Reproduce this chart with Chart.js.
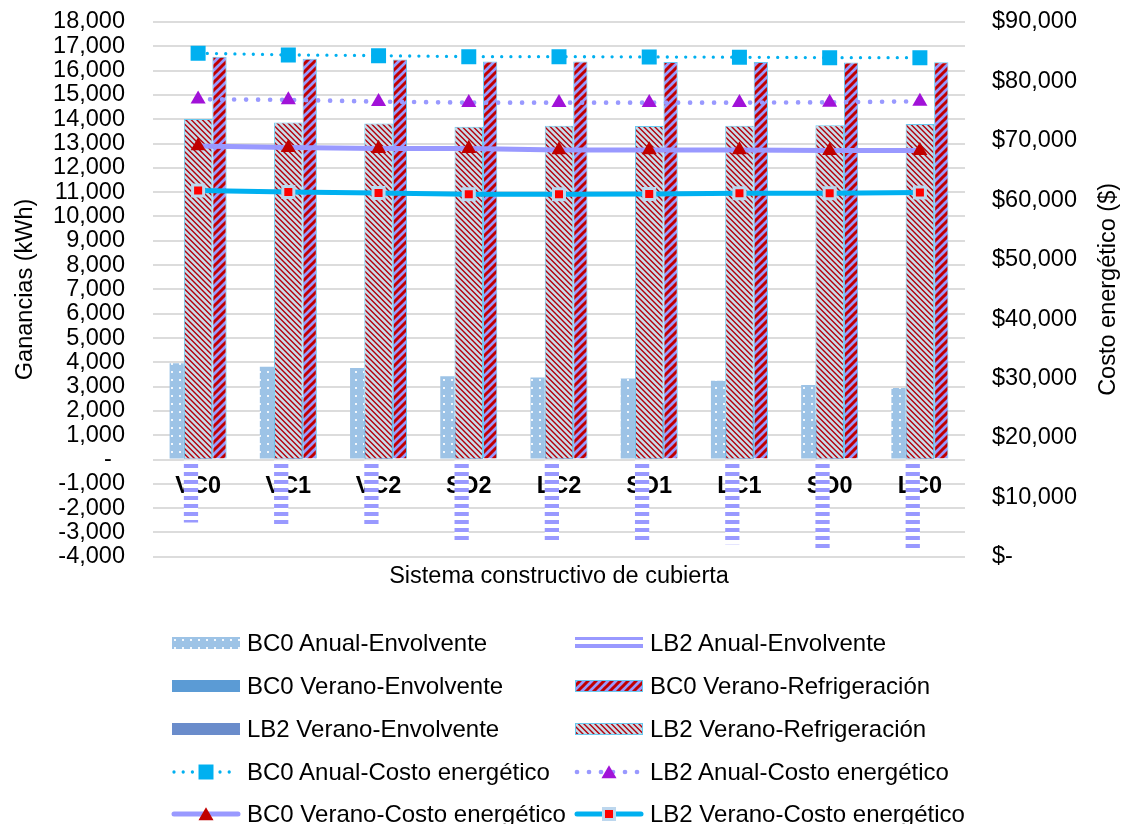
<!DOCTYPE html>
<html lang="es">
<head>
<meta charset="utf-8">
<title>Ganancias y costo energético por sistema constructivo de cubierta</title>
<script src="https://cdn.jsdelivr.net/npm/chart.js@4.4.1/dist/chart.umd.min.js"></script>
<style>
  html, body { margin: 0; padding: 0; background: #fff; }
  body { width: 1122px; height: 824px; position: relative; overflow: hidden;
         font-family: 'Liberation Sans', Arial, sans-serif; }
  #grafico { position: absolute; left: 0; top: 0; }
  #leyenda { position: absolute; left: 0; top: 0; width: 1122px; height: 824px; }
  .item { position: absolute; display: flex; align-items: center; height: 40px;
          font-size: 24px; color: #000; white-space: nowrap; }
  .item canvas { width: 70px; height: 30px; margin-right: 6px; flex: none; }
</style>
</head>
<body>
<canvas id="grafico" width="1122" height="600"></canvas>
<div id="leyenda"></div>
<script>
// Sistemas constructivos de cubierta (eje X)
const categorias = ['VC0', 'VC1', 'VC2', 'SD2', 'LC2', 'SD1', 'LC1', 'SD0', 'LC0'];

// Ganancias en kWh (eje izquierdo)
const bc0AnualEnvolvente       = [3960, 3820, 3770, 3430, 3380, 3330, 3240, 3070, 2940];
const lb2AnualEnvolvente       = [-2590, -2800, -2800, -3370, -3400, -3440, -3480, -3740, -3740];
const bc0VeranoEnvolvente      = [2650, 2570, 2540, 2380, 2360, 2330, 2280, 2190, 2120];
const bc0VeranoRefrigeracion   = [16570, 16490, 16460, 16370, 16370, 16350, 16350, 16330, 16340];
const lb2VeranoEnvolvente      = [1890, 1830, 1810, 1700, 1680, 1660, 1630, 1570, 1510];
const lb2VeranoRefrigeracion   = [14010, 13870, 13820, 13690, 13730, 13720, 13730, 13750, 13800];

// Costo energético en $ (eje derecho)
const bc0AnualCosto   = [84740, 84460, 84340, 84170, 84170, 84120, 84070, 84000, 84000];
const lb2AnualCosto   = [77000, 76890, 76600, 76430, 76430, 76430, 76430, 76480, 76650];
const bc0VeranoCosto  = [69150, 68860, 68700, 68700, 68470, 68470, 68470, 68360, 68360];
const lb2VeranoCosto  = [61630, 61400, 61240, 61020, 61020, 61070, 61190, 61190, 61290];

// Marcas de los ejes
const ticksGanancias = { min: -4000, max: 18000, paso: 1000 };
const ticksCosto     = { min: 0, max: 90000, paso: 10000 };

const FUENTE = "'Liberation Sans', Arial, sans-serif";
Chart.defaults.font.family = FUENTE;
Chart.defaults.color = '#000';

// ---- Tramas de relleno ----
function trama(tam, dibujar) {
  const c = document.createElement('canvas');
  c.width = c.height = tam;
  const g = c.getContext('2d');
  dibujar(g, tam);
  return g.createPattern(c, 'repeat');
}
const tramaPuntos = trama(8, (g, t) => {
  g.fillStyle = '#9DC3E6'; g.fillRect(0, 0, t, t);
  g.fillStyle = '#f2f7fc'; g.fillRect(3, 3, 2, 2);
});
const tramaLineasH = trama(8, (g, t) => {
  g.fillStyle = '#ffffff'; g.fillRect(0, 0, t, t);
  g.fillStyle = '#9999FF'; g.fillRect(0, 0, t, 4);
});
const tramaRayas = trama(8, (g, t) => {
  g.fillStyle = '#9999FF'; g.fillRect(0, 0, t, t);
  g.strokeStyle = '#C00000'; g.lineWidth = 3;
  g.beginPath();
  g.moveTo(-2, t + 2); g.lineTo(t + 2, -2);
  g.moveTo(-2, 2); g.lineTo(2, -2);
  g.moveTo(t - 2, t + 2); g.lineTo(t + 2, t - 2);
  g.stroke();
});
const tramaDiagonal = trama(11, (g, t) => {
  g.fillStyle = '#C9DDEA'; g.fillRect(0, 0, t, t);
  g.strokeStyle = '#B3000C'; g.lineWidth = 1.4;
  g.beginPath();
  for (const k of [-11, -5.5, 0, 5.5, 11]) { g.moveTo(-1, k - 1); g.lineTo(t + 1, t + k + 1); }
  g.stroke();
});

const BORDE_BARRA = '#69c8ee';
// Barras agrupadas: cuatro posiciones por categoría
const GRUPO = { categoryPercentage: 0.632, barPercentage: 1, grouped: true };
// Barras centradas en la categoría, con el ancho de dos posiciones
const CENTRADA = { grouped: false, categoryPercentage: 1, barPercentage: 0.316 };

const datasets = [
  { type: 'bar', label: 'BC0 Anual-Envolvente', data: bc0AnualEnvolvente, ...GRUPO,
    backgroundColor: tramaPuntos, borderWidth: 0, order: 2 },
  { type: 'bar', label: 'LB2 Anual-Envolvente', data: lb2AnualEnvolvente, ...GRUPO,
    backgroundColor: tramaLineasH, borderWidth: 0, order: 2 },
  { type: 'bar', label: 'BC0 Verano-Envolvente', data: bc0VeranoEnvolvente, ...GRUPO,
    backgroundColor: '#5B9BD5', borderWidth: 0, order: 2 },
  { type: 'bar', label: 'BC0 Verano-Refrigeración', data: bc0VeranoRefrigeracion, ...GRUPO,
    backgroundColor: tramaRayas, borderColor: BORDE_BARRA, borderWidth: 1, order: 2 },
  { type: 'bar', label: 'LB2 Verano-Envolvente', data: lb2VeranoEnvolvente, ...CENTRADA,
    backgroundColor: '#6A8CCB', borderWidth: 0, order: 2 },
  { type: 'bar', label: 'LB2 Verano-Refrigeración', data: lb2VeranoRefrigeracion, ...CENTRADA,
    backgroundColor: tramaDiagonal, borderColor: BORDE_BARRA, borderWidth: 1, order: 1 },
  { type: 'line', label: 'BC0 Anual-Costo energético', data: bc0AnualCosto, yAxisID: 'y1',
    borderColor: '#00B0F0', borderWidth: 3.3, borderDash: [0, 9.2], borderCapStyle: 'round',
    pointStyle: 'rect', pointRadius: 10.6, pointBackgroundColor: '#00B0F0',
    pointBorderColor: '#00B0F0', pointBorderWidth: 0, order: 0 },
  { type: 'line', label: 'LB2 Anual-Costo energético', data: lb2AnualCosto, yAxisID: 'y1',
    borderColor: '#9999FF', borderWidth: 4.7, borderDash: [0, 12], borderCapStyle: 'round',
    pointStyle: 'triangle', pointRadius: 8.7, pointBackgroundColor: '#A112D8',
    pointBorderColor: '#A112D8', pointBorderWidth: 0, order: 0 },
  { type: 'line', label: 'BC0 Verano-Costo energético', data: bc0VeranoCosto, yAxisID: 'y1',
    borderColor: '#9999FF', borderWidth: 5, borderCapStyle: 'round',
    pointStyle: 'triangle', pointRadius: 8.7, pointBackgroundColor: '#C00000',
    pointBorderColor: '#C00000', pointBorderWidth: 0, order: 0 },
  { type: 'line', label: 'LB2 Verano-Costo energético', data: lb2VeranoCosto, yAxisID: 'y1',
    borderColor: '#00B0F0', borderWidth: 5, borderCapStyle: 'round',
    pointStyle: 'rect', pointRadius: 7.8, pointBackgroundColor: '#FF0000',
    pointBorderColor: '#BDD7EE', pointBorderWidth: 3, order: 0 }
];

const fmt = n => Math.abs(n).toLocaleString('en-US');

// Título del eje derecho, leído de abajo hacia arriba
const tituloDerecho = {
  id: 'tituloDerecho',
  afterDraw(chart) {
    const { ctx, chartArea } = chart;
    const eje = chart.scales.y1;
    ctx.save();
    ctx.translate(eje.right - 13, (chartArea.top + chartArea.bottom) / 2);
    ctx.rotate(-Math.PI / 2);
    ctx.font = '23.5px ' + FUENTE;
    ctx.fillStyle = '#000';
    ctx.textAlign = 'center';
    ctx.textBaseline = 'middle';
    ctx.fillText('Costo energético ($)', 0, 0);
    ctx.restore();
  }
};

// Ejes verticales de ancho fijo, sin margen extra arriba ni abajo
const ajustarEjeVertical = ancho => s => {
  s.width = ancho;
  s.paddingTop = 0;
  s.paddingBottom = 0;
};

const grafico = new Chart(document.getElementById('grafico'), {
  data: { labels: categorias, datasets },
  options: {
    responsive: false,
    animation: false,
    layout: { padding: { top: 22, bottom: 9, left: 0, right: 0 } },
    plugins: { legend: { display: false }, tooltip: { enabled: false } },
    scales: {
      x: {
        type: 'category',
        position: { y: 0 },
        offset: true,
        z: 1,
        grid: { display: false, drawTicks: false },
        border: { display: false },
        ticks: { padding: 13, font: { size: 23.5, weight: 'bold' }, color: '#000',
                  maxRotation: 0, autoSkip: false },
        afterFit: s => { s.height = 0; }
      },
      x2: {
        type: 'category',
        position: 'bottom',
        offset: true,
        grid: { display: false, drawTicks: false },
        border: { display: false },
        ticks: { display: false },
        title: { display: true, text: 'Sistema constructivo de cubierta',
                 font: { size: 23.5 }, color: '#000', padding: { top: 6, bottom: 0 } }
      },
      y: {
        type: 'linear',
        position: 'left',
        stacked: false,
        min: ticksGanancias.min, max: ticksGanancias.max,
        grid: { color: '#dcdcdc', lineWidth: 2, drawTicks: false },
        border: { display: false },
        ticks: {
          stepSize: ticksGanancias.paso, autoSkip: false, padding: 28,
          font: { size: 23.5 }, color: '#000',
          callback: v => v === 0 ? '-  ' : (v < 0 ? '-' : '') + fmt(v)
        },
        title: { display: true, text: 'Ganancias (kWh)', font: { size: 23.5 },
                 color: '#000', padding: { top: 11, bottom: 0 } },
        afterFit: ajustarEjeVertical(153)
      },
      y1: {
        type: 'linear',
        position: 'right',
        min: ticksCosto.min, max: ticksCosto.max,
        grid: { display: false, drawTicks: false },
        border: { display: false },
        ticks: {
          stepSize: ticksCosto.paso, autoSkip: false, padding: 27,
          font: { size: 23.5 }, color: '#000',
          callback: v => v === 0 ? '$-' : '$' + fmt(v)
        },
        afterFit: ajustarEjeVertical(157)
      }
    }
  },
  plugins: [tituloDerecho]
});

// ---- Leyenda en dos columnas ----
function marcador(g, estilo, x, y, r, relleno, borde, ancho) {
  g.beginPath();
  if (estilo === 'rect') {
    const s = r * Math.SQRT1_2;
    g.rect(x - s, y - s, 2 * s, 2 * s);
  } else {
    for (let i = 0; i < 3; i++) {
      const a = i * 2 * Math.PI / 3;
      const px = x + Math.sin(a) * r, py = y - Math.cos(a) * r;
      i ? g.lineTo(px, py) : g.moveTo(px, py);
    }
    g.closePath();
  }
  g.fillStyle = relleno; g.fill();
  if (ancho > 0) { g.strokeStyle = borde; g.lineWidth = ancho; g.stroke(); }
}

function muestra(cv, ds) {
  const g = cv.getContext('2d');
  if (ds.type === 'line') {
    g.save();
    g.strokeStyle = ds.borderColor;
    g.lineWidth = ds.borderWidth;
    g.lineCap = 'round';
    g.setLineDash(ds.borderDash || []);
    g.beginPath(); g.moveTo(3, 15); g.lineTo(67, 15); g.stroke();
    g.restore();
    marcador(g, ds.pointStyle, 35, 15 + (ds.pointStyle === 'triangle' ? 2 : 0), ds.pointRadius,
             ds.pointBackgroundColor, ds.pointBorderColor, ds.pointBorderWidth);
  } else {
    g.fillStyle = ds.backgroundColor;
    g.fillRect(1, 9, 68, 12);
    if (ds.borderWidth) {
      g.strokeStyle = ds.borderColor; g.lineWidth = ds.borderWidth;
      g.strokeRect(1.5, 9.5, 67, 11);
    }
  }
}

const leyenda = document.getElementById('leyenda');
const colX = [171, 574];
const fila0 = 643.3, pasoFila = 42.75;
datasets.forEach((ds, i) => {
  const item = document.createElement('div');
  item.className = 'item';
  item.style.left = colX[i % 2] + 'px';
  item.style.top = (fila0 + Math.floor(i / 2) * pasoFila - 20) + 'px';
  const cv = document.createElement('canvas');
  cv.width = 70; cv.height = 30;
  muestra(cv, ds);
  const txt = document.createElement('span');
  txt.textContent = ds.label;
  item.appendChild(cv);
  item.appendChild(txt);
  leyenda.appendChild(item);
});
</script>
</body>
</html>
